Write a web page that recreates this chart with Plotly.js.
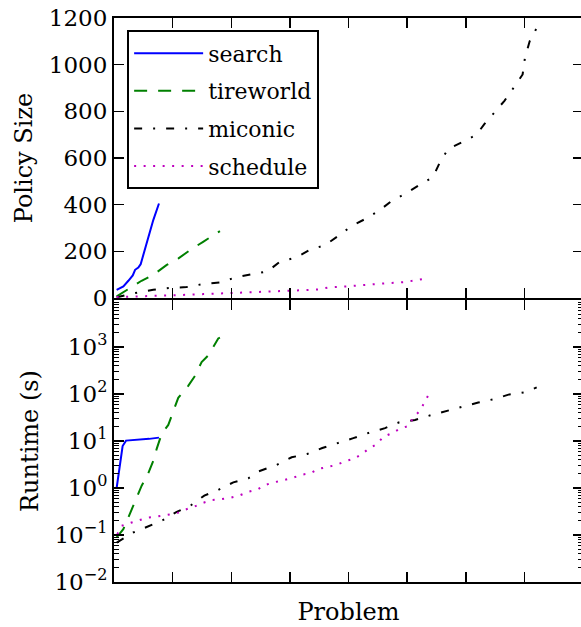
<!DOCTYPE html>
<html>
<head>
<meta charset="utf-8">
<script src="https://cdn.plot.ly/plotly-3.0.1.min.js"></script>
<style>
html, body { margin: 0; padding: 0; overflow: hidden; background: #fff; }
#chart { width: 590px; height: 627px; }
</style>
</head>
<body>
<div id="chart"></div>
<script>
// ---- Data ----
var seriesNames = ["search", "tireworld", "miconic", "schedule"];

// Policy size (top panel)
var searchSizeX = [0.45, 1.6, 2.45, 3.2, 3.6, 4.15, 4.55, 5.1, 5.85, 6.7, 7.67];
var searchSize  = [35, 50, 74, 97, 121, 131, 145, 192, 263, 334, 405];

var tireSizeX = [0.45, 2.7, 4.7, 6.7, 9.0, 11.0, 13.0, 15.2, 18.07];
var tireSize  = [7, 43, 74, 99, 142, 170, 206, 241, 287];

var micSizeX = [0.45, 2.7, 6.7, 9.5, 12.4, 15.2, 18.07, 20.7, 23.5, 26.2, 28.3, 31, 33.4, 36, 38.2, 40.5, 42.8, 45.2, 47.3, 49.7, 52.0, 54.4, 55.6, 57.0, 59.3, 61.8, 63.2, 64.9, 66.6, 68.3, 69.7, 70.1, 70.9, 72.1];
var micSize  = [3, 17, 35, 43, 47, 60, 67, 88, 102, 114, 156, 173, 206, 227, 265, 308, 338, 374, 415, 447, 483, 518, 582, 639, 667, 699, 746, 795, 845, 906, 958, 1030, 1100, 1157];

var schSizeX = [0.45, 5.6, 9.0, 12.4, 15.3, 18.6, 21.9, 25.2, 28.5, 31.7, 34.9, 36.5, 39.8, 43.1, 46.3, 49.5, 52.7, 53.6];
var schSize  = [4, 7, 10, 14, 17, 20, 23, 26, 27, 33, 37, 45, 50, 55, 63, 68, 81, 85];

// Runtime in seconds (bottom panel)
var searchRtX = [0.45, 1.47, 2.05, 4.0, 6.0, 7.67];
var searchRt  = [1.0, 7.8, 10.2, 10.5, 11.1, 11.8];

var tireRtX = [0.46, 1.59, 3.29, 4.72, 5.68, 6.70, 7.28, 8.13, 9.26, 10.28, 10.96, 12.66, 13.81, 14.95, 16.07, 17.78, 18.07];
var tireRt  = [0.089, 0.133, 0.42, 1.12, 1.83, 3.8, 6.8, 14.2, 22, 49, 83, 149, 243, 480, 660, 1520, 1580];

var micRtX = [0.46, 1.31, 3.29, 5.58, 8.31, 10.70, 13.13, 15.40, 17.79, 20.35, 22.91, 24.73, 27.75, 30.31, 32.97, 35.53, 38.26, 40.82, 43.55, 46.23, 48.67, 51.34, 54.07, 56.75, 59.41, 62.14, 64.87, 67.43, 70.28, 72.1];
var micRt  = [0.069, 0.081, 0.113, 0.148, 0.207, 0.31, 0.43, 0.69, 0.91, 1.32, 1.61, 2.27, 3.1, 4.5, 5.3, 7.1, 9.0, 11.5, 15, 18.8, 25, 28, 35.5, 44, 55, 66, 78, 98, 110, 138];

var schRtX = [0.56, 1.31, 3.02, 4.43, 5.85, 7.56, 9.09, 10.70, 12.11, 13.65, 15.13, 16.67, 18.37, 19.91, 21.37, 22.91, 24.44, 25.76, 27.29, 28.88, 30.41, 32.02, 33.55, 34.85, 36.38, 37.99, 39.40, 40.94, 42.25, 43.55, 44.91, 45.94, 47.47, 48.78, 50.27, 51.05, 52.20, 52.88, 53.6];
var schRt  = [0.104, 0.157, 0.185, 0.21, 0.236, 0.25, 0.265, 0.29, 0.345, 0.40, 0.48, 0.555, 0.58, 0.62, 0.69, 0.83, 0.92, 1.16, 1.32, 1.46, 1.63, 1.92, 2.06, 2.54, 2.77, 3.1, 3.7, 4.2, 5.25, 7.0, 8.7, 12.3, 14.7, 18.3, 20.9, 31.7, 44, 66, 94];

var sizeTicks = [0, 200, 400, 600, 800, 1000, 1200];
var rtTickVals = [0.01, 0.1, 1, 10, 100, 1000];
var rtTickText = ["10<sup>\u22122</sup>", "10<sup>\u22121</sup>", "10<sup>0</sup>", "10<sup>1</sup>", "10<sup>2</sup>", "10<sup>3</sup>"];

// ---- Styles ----
var colors = ["#0000ff", "#008000", "#000000", "#bf00bf"];
var dashes = ["solid", "13px,11px", "8px,11px,2px,11px", "2px,7.5px"];
var sizeXs = [searchSizeX, tireSizeX, micSizeX, schSizeX];
var sizeYs = [searchSize, tireSize, micSize, schSize];
var rtXs = [searchRtX, tireRtX, micRtX, schRtX];
var rtYs = [searchRt, tireRt, micRt, schRt];

var FONT = "DejaVu Serif";
var traces = [];
for (var i = 0; i < 4; i++) {
  traces.push({
    type: "scatter", mode: "lines", name: seriesNames[i], legendgroup: seriesNames[i],
    x: sizeXs[i], y: sizeYs[i], xaxis: "x2", yaxis: "y2",
    line: {color: colors[i], width: 2, dash: dashes[i]},
    showlegend: true
  });
}
for (var j = 0; j < 4; j++) {
  traces.push({
    type: "scatter", mode: "lines", name: seriesNames[j], legendgroup: seriesNames[j],
    x: rtXs[j], y: rtYs[j], xaxis: "x", yaxis: "y",
    line: {color: colors[j], width: 2, dash: dashes[j]},
    showlegend: false
  });
}

var xCommon = {
  range: [0, 80], tick0: 0, dtick: 10, ticks: "inside", ticklen: 10, tickwidth: 1.5,
  tickcolor: "#000", showticklabels: false, showline: true, linewidth: 2, linecolor: "#000",
  mirror: "allticks", showgrid: false, zeroline: false
};

var layout = {
  width: 590, height: 627,
  margin: {l: 114, r: 7, t: 18, b: 45},
  paper_bgcolor: "#fff", plot_bgcolor: "#fff",
  font: {family: FONT, size: 23, color: "#000"},
  showlegend: true,
  legend: {
    x: 0.028, y: 0.978, xanchor: "left", yanchor: "top",
    bgcolor: "#fff", bordercolor: "#000", borderwidth: 2,
    font: {family: FONT, size: 22, color: "#000"},
    itemwidth: 69, tracegroupgap: 6
  },
  xaxis: Object.assign({}, xCommon, {
    anchor: "y", domain: [0, 1],
    title: {text: "Problem", font: {family: FONT, size: 24}, standoff: 20}
  }),
  xaxis2: Object.assign({}, xCommon, {anchor: "y2", matches: "x", domain: [0, 1]}),
  yaxis: {
    anchor: "x", domain: [0, 0.5], type: "log", range: [-2, 4],
    tickmode: "array", tickvals: rtTickVals, ticktext: rtTickText,
    ticks: "inside", ticklen: 10, tickwidth: 1.5, tickcolor: "#000",
    minor: {ticks: "inside", ticklen: 5, tickwidth: 1, tickcolor: "#000", dtick: "D1", showgrid: false},
    showline: true, linewidth: 2, linecolor: "#000", mirror: "allticks",
    showgrid: false, zeroline: false,
    tickfont: {family: FONT, size: 23},
    title: {text: "Runtime (s)", font: {family: FONT, size: 24}, standoff: 9}
  },
  yaxis2: {
    anchor: "x2", domain: [0.5035, 1], range: [0, 1200],
    tickmode: "array", tickvals: sizeTicks,
    ticks: "inside", ticklen: 10, tickwidth: 1.5, tickcolor: "#000",
    showline: true, linewidth: 2, linecolor: "#000", mirror: "allticks",
    showgrid: false, zeroline: false,
    tickfont: {family: FONT, size: 23},
    title: {text: "Policy Size", font: {family: FONT, size: 24}, standoff: 9}
  }
};

Plotly.newPlot("chart", traces, layout, {staticPlot: true, displayModeBar: false});
</script>
</body>
</html>
